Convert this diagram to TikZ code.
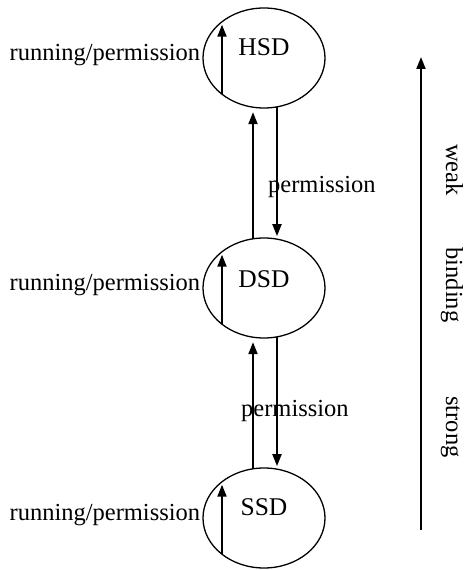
\documentclass[tikz,border=0pt]{standalone}
\usepackage{fontspec}
\setmainfont{Liberation Serif}
\usetikzlibrary{arrows.meta,shapes.geometric,calc}
\begin{document}
\begin{tikzpicture}[x=1pt,y=1pt,
  state/.style={draw,ellipse,line width=1.3pt,minimum width=122pt,minimum height=100pt,inner sep=0pt},
  stlabel/.style={font=\fontsize{25.5}{28}\selectfont,anchor=base,inner sep=0pt},
  txt/.style={font=\fontsize{24.5}{28}\selectfont,inner sep=0pt},
  axtxt/.style={font=\fontsize{24.5}{28}\selectfont,inner sep=0pt,rotate=-90,anchor=base},
  arr/.style={line width=2pt,-{Triangle[length=12pt,width=9pt]}}]
\useasboundingbox (0,0) rectangle (466,570);
% states
\node[state] (HSD) at (264,512) {};
\node[state] (DSD) at (264,282) {};
\node[state] (SSD) at (264,52) {};
\node[stlabel] (HSDt) at ([yshift=2pt]HSD.center) {HSD};
\node[stlabel] (DSDt) at ([yshift=0pt]DSD.center) {DSD};
\node[stlabel] (SSDt) at ([yshift=2pt]SSD.center) {SSD};
% self loops (running/permission)
\foreach \s in {HSD,DSD,SSD}{
  \coordinate (\s lo) at ([xshift=-42pt,yshift=-36.3pt]\s.center);
  \coordinate (\s hi) at ([xshift=-42pt,yshift=36.3pt]\s.center);
  \draw[arr,shorten >=3pt] (\s lo) -- (\s hi);
  \node[txt,anchor=base east] (\s r) at ([xshift=-2pt,yshift=-3pt]\s.west) {running/permission};
}
% upward transitions
\coordinate (Dup) at ([xshift=-11pt,yshift=49.2pt]DSD.center);
\coordinate (Hdn) at ([xshift=-11pt,yshift=-49.2pt]HSD.center);
\draw[arr,shorten >=5pt] (Dup) -- (Hdn);
\coordinate (Sup) at ([xshift=-11pt,yshift=49.2pt]SSD.center);
\coordinate (Ddn) at ([xshift=-11pt,yshift=-49.2pt]DSD.center);
\draw[arr,shorten >=5pt] (Sup) -- (Ddn);
% downward transitions
\coordinate (Hdn2) at ([xshift=13pt,yshift=-48.85pt]HSD.center);
\coordinate (Dup2) at ([xshift=13pt,yshift=48.85pt]DSD.center);
\draw[arr,shorten >=3pt] (Hdn2) -- (Dup2);
\coordinate (Ddn2) at ([xshift=13pt,yshift=-48.85pt]DSD.center);
\coordinate (Sup2) at ([xshift=13pt,yshift=48.85pt]SSD.center);
\draw[arr,shorten >=3pt] (Ddn2) -- (Sup2);
% transition labels
\node[txt,anchor=base west] (p1) at (268,377) {permission};
\node[txt,anchor=base west] (p2) at (241,153) {permission};
% binding axis
\coordinate (axlo) at (421,40);
\coordinate (axhi) at (421,513);
\draw[arr] (axlo) -- (axhi);
\node[axtxt] (weak) at (446,400) {weak};
\node[axtxt] (binding) at (446,285) {binding};
\node[axtxt] (strong) at (446,143) {strong};
\end{tikzpicture}
\end{document}
